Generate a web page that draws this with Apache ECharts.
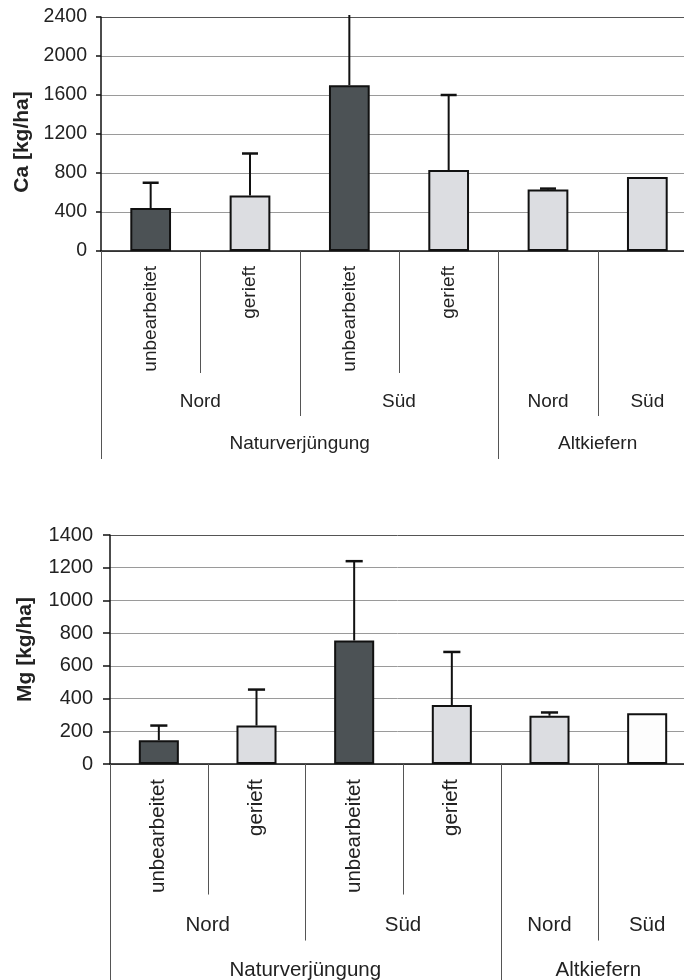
<!DOCTYPE html>
<html>
<head>
<meta charset="utf-8">
<script src="https://cdn.jsdelivr.net/npm/echarts@6/dist/echarts.min.js"></script>
<style>
  html, body { margin: 0; padding: 0; background: #fff; }
  #chart { width: 684px; height: 980px; }
</style>
</head>
<body>
<div id="chart"></div>
<script>
// treatment labels under each bar, then the two grouping levels below them
var categories = ['unbearbeitet', 'gerieft', 'unbearbeitet', 'gerieft', '', ''];
var sideSpans = [['Nord', 0, 1], ['Süd', 2, 3], ['Nord', 4, 4], ['Süd', 5, 5]];
var standSpans = [['Naturverjüngung', 0, 3], ['Altkiefern', 4, 5]];

// Ca stock: mean and upper end of the error bar (null = no bar)
var caMean = [440, 570, 1700, 830, 630, 760];
var caUpper = [700, 1000, 2450, 1600, 640, null];
var caMax = 2400, caStep = 400;

// Mg stock
var mgMean = [145, 235, 755, 360, 295, 310];
var mgUpper = [235, 455, 1240, 685, 315, null];
var mgMax = 1400, mgStep = 200;

var FONT = "'Liberation Sans', Arial, Helvetica, sans-serif";
var DARK = '#4c5255', LIGHT = '#dcdde1', WHITE = '#fdfdfd';

var panels = [
  {
    name: 'Ca [kg/ha]', mean: caMean, upper: caUpper, max: caMax, step: caStep,
    grid: { left: 101, top: 17, width: 596, height: 234 },
    fills: [DARK, LIGHT, DARK, LIGHT, LIGHT, LIGHT],
    k: 1, fs: 19, yfs: 19.5, nameFs: 21, labelMargin: 14, nameGap: 63, namePad: [0, 16, 0, 0], tickLen: 5
  },
  {
    name: 'Mg [kg/ha]', mean: mgMean, upper: mgUpper, max: mgMax, step: mgStep,
    grid: { left: 110, top: 535, width: 586, height: 229 },
    fills: [DARK, LIGHT, DARK, LIGHT, LIGHT, WHITE],
    k: 1.07, fs: 20.5, yfs: 20, nameFs: 21, labelMargin: 17, nameGap: 74, namePad: 0, tickLen: 7
  }
];

function boundaryLevel(b) {
  var n = categories.length;
  if (b === 0 || b === n) return 3;
  if (standSpans.some(function (s) { return s[1] === b; })) return 3;
  if (sideSpans.some(function (s) { return s[1] === b; })) return 2;
  return 1;
}

function frameRenderer(p) {
  return function (params, api) {
    var w = api.size([1, 0])[0];
    var origin = api.coord([0, 0]);
    var y0 = origin[1];
    var xAt = function (b) { return origin[0] + (b - 0.5) * w; };
    var depth = [0, 122 * p.k, 165 * p.k, 208 * p.k];
    var children = [];
    for (var b = 0; b <= categories.length; b++) {
      var x = Math.round(xAt(b)) + 0.5;
      children.push({
        type: 'line',
        shape: { x1: x, y1: y0, x2: x, y2: y0 + depth[boundaryLevel(b)] },
        style: { stroke: '#555', lineWidth: 1 }
      });
    }
    var addText = function (spans, dy) {
      spans.forEach(function (s) {
        children.push({
          type: 'text',
          x: (xAt(s[1]) + xAt(s[2] + 1)) / 2,
          y: y0 + dy,
          style: {
            text: s[0], fontSize: p.fs, fontFamily: FONT,
            fill: '#222', align: 'center', verticalAlign: 'middle'
          }
        });
      });
    };
    addText(sideSpans, 151 * p.k);
    addText(standSpans, 193 * p.k);
    return { type: 'group', children: children };
  };
}

function errorRenderer(p) {
  return function (params, api) {
    var top = api.coord([api.value(0), api.value(2)]);
    var base = api.coord([api.value(0), api.value(1)]);
    var cs = params.coordSys;
    var clipped = top[1] < cs.y;
    var yTop = clipped ? cs.y - 2 : top[1];
    var x = base[0];
    var children = [{
      type: 'line',
      shape: { x1: x, y1: base[1], x2: x, y2: yTop },
      style: { stroke: '#111', lineWidth: 2 }
    }];
    if (!clipped) {
      children.push({
        type: 'line',
        shape: { x1: x - 8 * p.k, y1: yTop, x2: x + 8 * p.k, y2: yTop },
        style: { stroke: '#111', lineWidth: 2.5 }
      });
    }
    return { type: 'group', children: children };
  };
}

var grids = [], xAxes = [], yAxes = [], series = [];
panels.forEach(function (p, gi) {
  grids.push(Object.assign({ outerBoundsMode: 'none', containLabel: false }, p.grid));
  xAxes.push({
    type: 'category', gridIndex: gi, data: categories,
    axisLine: { lineStyle: { color: '#111', width: 1.5 } },
    axisTick: { show: false },
    axisLabel: { rotate: 90, margin: 15, fontSize: p.fs, fontFamily: FONT, color: '#222', interval: 0 },
    splitLine: { show: false }
  });
  var nLines = p.max / p.step + 1;
  var splitColors = [];
  for (var i = 0; i < nLines; i++) splitColors.push(i === nLines - 1 ? '#555' : '#9a9a9a');
  yAxes.push({
    type: 'value', gridIndex: gi, min: 0, max: p.max, interval: p.step,
    name: p.name, nameLocation: 'middle', nameGap: p.nameGap,
    nameTextStyle: { fontSize: p.nameFs, fontWeight: 'bold', fontFamily: FONT, color: '#222', padding: p.namePad },
    axisLine: { show: true, lineStyle: { color: '#111', width: 1.5 } },
    axisTick: { show: true, length: p.tickLen, lineStyle: { color: '#111', width: 1.5 } },
    axisLabel: {
      fontSize: p.yfs, fontFamily: FONT, color: '#222', margin: p.labelMargin,
      formatter: function (v) { return String(v); }
    },
    splitLine: { show: true, lineStyle: { color: splitColors, width: 1 } }
  });
  series.push({
    type: 'bar', xAxisIndex: gi, yAxisIndex: gi, barWidth: '41%',
    data: p.mean.map(function (v, i) {
      return { value: v, itemStyle: { color: p.fills[i] } };
    }),
    itemStyle: { borderColor: '#111', borderWidth: 2 },
    emphasis: { disabled: true }, z: 2
  });
  var errData = [];
  p.upper.forEach(function (u, i) { if (u !== null) errData.push([i, p.mean[i], u]); });
  series.push({
    type: 'custom', xAxisIndex: gi, yAxisIndex: gi, data: errData,
    renderItem: errorRenderer(p), silent: true, z: 3
  });
  series.push({
    type: 'custom', xAxisIndex: gi, yAxisIndex: gi, data: [[0, 0]],
    renderItem: frameRenderer(p), silent: true, z: 4
  });
});

var chart = echarts.init(document.getElementById('chart'), null, { renderer: 'canvas' });
var option = {
  animation: false,
  backgroundColor: '#fff',
  textStyle: { fontFamily: FONT },
  grid: grids,
  xAxis: xAxes,
  yAxis: yAxes,
  series: series
};
chart.setOption(option);
</script>
</body>
</html>
